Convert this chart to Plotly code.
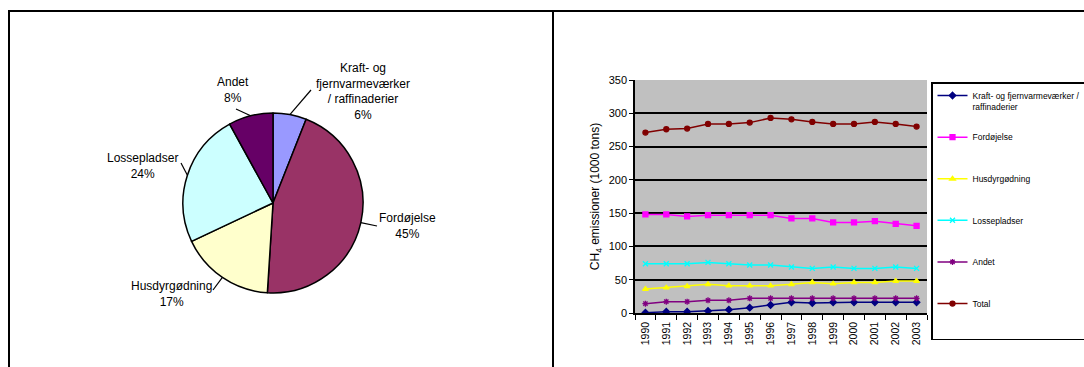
import math
import plotly.graph_objects as go

W, H = 1084, 367

# ---- data -------------------------------------------------------------
pie_labels = ["Kraft- og fjernvarmeværker / raffinaderier", "Fordøjelse",
              "Husdyrgødning", "Lossepladser", "Andet"]
pie_values = [6, 45, 17, 24, 8]
pie_colors = ["#9999FF", "#993366", "#FFFFCC", "#CCFFFF", "#660066"]

years = ["1990", "1991", "1992", "1993", "1994", "1995", "1996",
         "1997", "1998", "1999", "2000", "2001", "2002", "2003"]
kraft = [0.5, 2, 2, 3, 5, 8, 12, 16, 15, 16, 16, 16, 16, 16]
fordoejelse = [148, 148, 145, 147, 147, 147, 147, 142, 142, 136, 136, 138, 134, 131]
husdyr = [36, 38, 40, 43, 41, 41, 41, 43, 46, 44, 46, 46, 48, 48]
losse = [74, 74, 74, 76, 74, 72, 72, 69, 67, 69, 67, 67, 69, 67]
andet = [14, 17, 17, 19, 19, 22, 22, 22, 22, 22, 22, 22, 22, 22]
total = [271, 276, 277, 284, 284, 286, 293, 291, 287, 284, 284, 287, 284, 280]

FONT = "Liberation Sans, Arial, sans-serif"


def px(x):
    return x / W


def py(y):
    return 1 - y / H


fig = go.Figure()

# ---- pie --------------------------------------------------------------
cx, cy, r = 273, 203, 90
fig.add_trace(go.Pie(
    labels=pie_labels, values=pie_values, sort=False, direction="clockwise",
    rotation=0, textinfo="none", hoverinfo="label+percent", showlegend=False,
    marker=dict(colors=pie_colors, line=dict(color="black", width=1.5)),
    domain=dict(x=[px(cx - r), px(cx + r)], y=[py(cy + r), py(cy - r)]),
))

# label text, label centre and leader-line end (pixels)
pie_text = [
    ("Kraft- og<br>fjernvarmeværker<br>/ raffinaderier<br>6%", 363, 91, (311, 90)),
    ("Fordøjelse<br>45%", 407, 226, (377, 226)),
    ("Husdyrgødning<br>17%", 171, 294, (213, 290)),
    ("Lossepladser<br>24%", 142, 166, (181, 163)),
    ("Andet<br>8%", 233, 90, (236, 109)),
]
annotations = []
shapes = []
total_pie = sum(pie_values)
cum = 0
for (txt, tx, ty, end), v in zip(pie_text, pie_values):
    mid = (cum + v / 2) / total_pie * 2 * math.pi
    cum += v
    sx = cx + r * math.sin(mid)
    sy = cy - r * math.cos(mid)
    shapes.append(dict(type="line", xref="paper", yref="paper",
                       x0=px(sx), y0=py(sy), x1=px(end[0]), y1=py(end[1]),
                       line=dict(color="black", width=1.2)))
    annotations.append(dict(text=txt, x=px(tx), y=py(ty), xref="paper", yref="paper",
                            showarrow=False, xanchor="center", yanchor="middle",
                            font=dict(family=FONT, size=12, color="black")))

# ---- line chart -------------------------------------------------------
series = [
    ("Kraft- og fjernvarmeværker /<br>raffinaderier", kraft, "#000080", "diamond"),
    ("Fordøjelse<br> ", fordoejelse, "#FF00FF", "square"),
    ("Husdyrgødning<br> ", husdyr, "#FFFF00", "triangle-up"),
    ("Lossepladser<br> ", losse, "#00FFFF", "x-thin-open"),
    ("Andet<br> ", andet, "#800080", "asterisk-open"),
    ("Total<br> <br> ", total, "#800000", "circle"),
]
for i, (name, vals, col, sym) in enumerate(series):
    fig.add_trace(go.Scatter(
        x=years, y=vals, name=name, mode="lines+markers",
        xaxis="x", yaxis="y", legendgroup=f"g{i}",
        line=dict(color=col, width=1.5),
        marker=dict(symbol=sym, size=5, color=col,
                    line=dict(color=col, width=1.3)),
    ))

# ---- frame ------------------------------------------------------------
frame = dict(color="black", width=2)
shapes += [
    dict(type="line", xref="paper", yref="paper", x0=px(8), x1=1, y0=py(11), y1=py(11), line=frame),
    dict(type="line", xref="paper", yref="paper", x0=px(9), x1=px(9), y0=py(11), y1=0, line=frame),
    dict(type="line", xref="paper", yref="paper", x0=px(553), x1=px(553), y0=py(11), y1=0, line=frame),
]

fig.update_layout(
    width=W, height=H, margin=dict(l=0, r=0, t=0, b=0, autoexpand=False),
    paper_bgcolor="white", plot_bgcolor="#C0C0C0",
    font=dict(family=FONT, color="black"),
    shapes=shapes, annotations=annotations,
    xaxis=dict(domain=[px(635), px(927)], anchor="y", type="category",
               range=[-0.5, 13.5], tickson="boundaries", ticks="outside",
               ticklen=5, tickcolor="black", tickangle=-90, showgrid=False,
               showline=True, linecolor="black", linewidth=1.5,
               automargin=False, ticklabelstandoff=3,
               tickfont=dict(size=10.5, family=FONT)),
    yaxis=dict(domain=[py(313), py(80)], anchor="x", range=[0, 350], dtick=50,
               ticks="outside", ticklen=4, tickcolor="black", showgrid=True,
               gridcolor="black", gridwidth=1.5, zeroline=False,
               showline=True, linecolor="black", linewidth=1.5,
               automargin=False,
               tickfont=dict(size=11, family=FONT),
               title=dict(text="CH<sub>4</sub> emissioner (1000 tons)",
                          font=dict(size=12, family=FONT), standoff=6)),
    legend=dict(xref="container", yref="container",
                x=px(931), y=py(82), xanchor="left", yanchor="top",
                bordercolor="black", borderwidth=1.5, bgcolor="white",
                font=dict(size=8.5, family=FONT), tracegroupgap=16.5,
                valign="top", itemwidth=30, maxheight=400),
)

fig.write_html("out.html")
